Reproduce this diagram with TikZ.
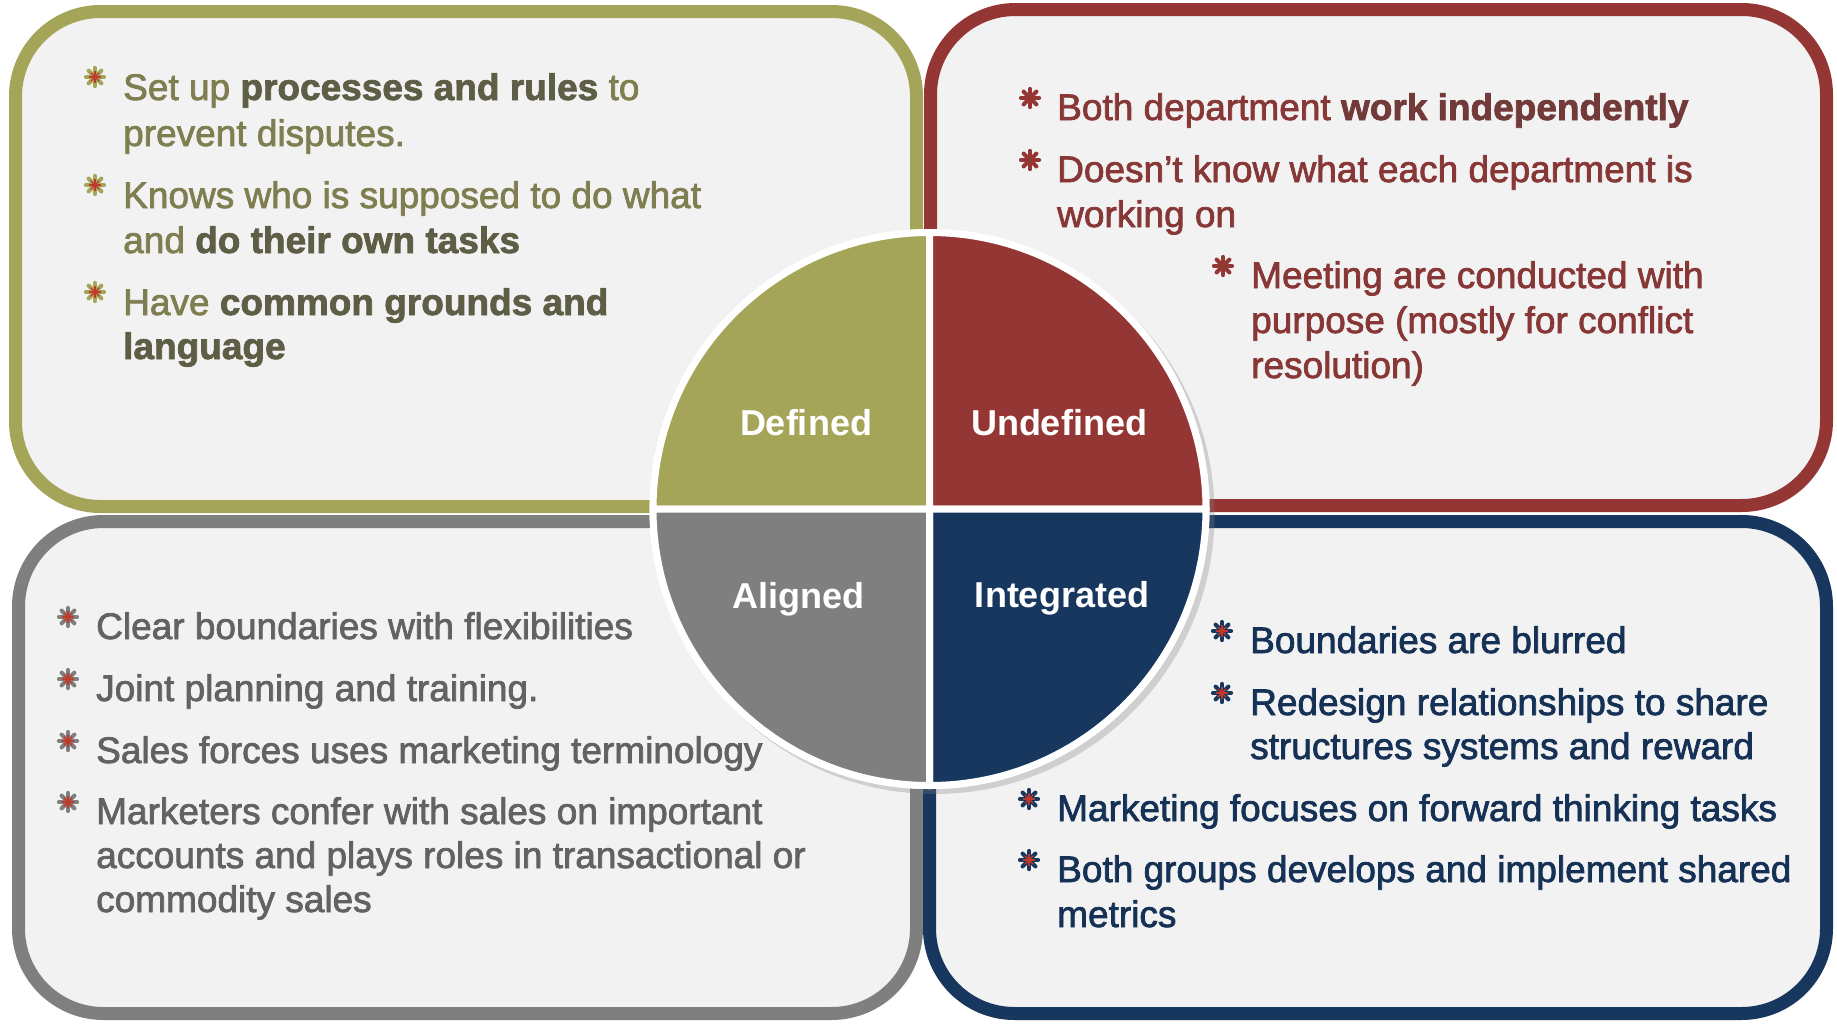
\documentclass[tikz,border=0pt]{standalone}
\usepackage{fontspec}
\setmainfont{Liberation Sans}
\newfontfamily\bodyfont{Liberation Sans}[FakeBold=2]
\usetikzlibrary{shadows}
\definecolor{olv}{HTML}{A5A55A}
\definecolor{rd}{HTML}{943634}
\definecolor{gry}{HTML}{7F7F7F}
\definecolor{nvy}{HTML}{17375E}
\definecolor{boxbg}{HTML}{F2F2F2}
\definecolor{core}{HTML}{3F3F3F}
\definecolor{astred}{HTML}{C0392B}
\colorlet{gtxtc}{olv!62!core}
\colorlet{gboldc}{olv!30!core}
\colorlet{rtxtc}{rd!85!core}
\colorlet{rboldc}{rd!60!core}
\colorlet{atxtc}{gry!55!core}
\colorlet{btxtc}{nvy!90!black}
\newcommand\gb[1]{\textbf{\color{gboldc}#1}}
\newcommand\rb[1]{\textbf{\color{rboldc}#1}}
\newcommand\astk[4]{%
  \coordinate (#1) at #2;
  \foreach \a in {0,45,90,135}{\draw[#3, line width=4.2pt, line cap=round, shift={(#1)}] (\a:9) -- (\a+180:9);}
  \foreach \a in {0,45,90,135}{\draw[#4, line width=1.4pt, line cap=round, shift={(#1)}] (\a:5.5) -- (\a+180:5.5);}
}
\tikzset{
  panel/.style={line width=13pt, rounded corners=85pt, fill=boxbg,
    drop shadow={shadow xshift=5pt, shadow yshift=-5pt, opacity=0.3}},
  quad/.style={draw=white, line width=7pt, line join=round},
  body/.style={anchor=base west, inner sep=0pt, font=\fontsize{37}{45}\bodyfont},
  gtext/.style={body, text=gtxtc},
  rtext/.style={body, text=rtxtc},
  atext/.style={body, text=atxtc},
  btext/.style={body, text=btxtc},
  lbl/.style={anchor=base, inner sep=0pt, text=white, font=\fontsize{36}{40}\selectfont\bfseries}
}
\begin{document}
\begin{tikzpicture}[x=1pt, y=-1pt]
\useasboundingbox (0,0) rectangle (1837,1026);
\fill[white] (0,0) rectangle (1837,1026);
% panels (bottom row first)
\draw[panel, draw=gry] (18.5,521.5) rectangle (916.5,1013.5);
\draw[panel, draw=nvy] (929.5,521.5) rectangle (1826.5,1013.5);
\draw[panel, draw=olv] (15.5,11.5) rectangle (916.5,506.5);
\draw[panel, draw=rd] (930.5,9.5) rectangle (1826.5,505.5);
% green text
\astk{ga1}{(95,77)}{olv}{astred}
\astk{ga2}{(95,185)}{olv}{astred}
\astk{ga3}{(95,292)}{olv}{astred}
\node[gtext] (g1) at (123,100) {Set up \gb{processes and rules} to};
\node[gtext] (g2) at (123,146) {prevent disputes.};
\node[gtext] (g3) at (123,208) {Knows who is supposed to do what};
\node[gtext] (g4) at (123,253) {and \gb{do their own tasks}};
\node[gtext] (g5) at (123,315) {Have \gb{common grounds and}};
\node[gtext] (g6) at (123,359) {\gb{language}};
% red text
\astk{ra1}{(1030,98)}{rd}{rd}
\astk{ra2}{(1030,160)}{rd}{rd}
\astk{ra3}{(1223,266)}{rd}{rd}
\node[rtext] (r1) at (1057,120) {Both department \rb{work independently}};
\node[rtext] (r2) at (1057,182) {Doesn’t know what each department is};
\node[rtext] (r3) at (1057,227) {working on};
\node[rtext] (r4) at (1251,288) {Meeting are conducted with};
\node[rtext] (r5) at (1251,333) {purpose (mostly for conflict};
\node[rtext] (r6) at (1251,378) {resolution)};
% gray text
\astk{aa1}{(68,617)}{gry}{astred}
\astk{aa2}{(68,679)}{gry}{astred}
\astk{aa3}{(68,741)}{gry}{astred}
\astk{aa4}{(68,802)}{gry}{astred}
\node[atext] (a1) at (96,639) {Clear boundaries with flexibilities};
\node[atext] (a2) at (96,701) {Joint planning and training.};
\node[atext] (a3) at (96,763) {Sales forces uses marketing terminology};
\node[atext] (a4) at (96,824) {Marketers confer with sales on important};
\node[atext] (a5) at (96,868) {accounts and plays roles in transactional or};
\node[atext] (a6) at (96,912) {commodity sales};
% blue text
\astk{ba1}{(1222,631)}{nvy}{astred}
\astk{ba2}{(1222,693)}{nvy}{astred}
\astk{ba3}{(1029,799)}{nvy}{astred}
\astk{ba4}{(1029,860)}{nvy}{astred}
\node[btext] (b1) at (1250,653) {Boundaries are blurred};
\node[btext] (b2) at (1250,715) {Redesign relationships to share};
\node[btext] (b3) at (1250,759) {structures systems and reward};
\node[btext] (b4) at (1057,821) {Marketing focuses on forward thinking tasks};
\node[btext] (b5) at (1057,882) {Both groups develops and implement shared};
\node[btext] (b6) at (1057,927) {metrics};
% central circle
\coordinate (c) at (929.5,509);
\fill[white, drop shadow={shadow xshift=5pt, shadow yshift=-5pt, opacity=0.3}] (c) circle[radius=280];
\filldraw[quad, fill=olv] (c) -- ++(-276.5,0) arc[start angle=180, end angle=270, radius=276.5] -- cycle;
\filldraw[quad, fill=rd]  (c) -- ++(0,-276.5) arc[start angle=270, end angle=360, radius=276.5] -- cycle;
\filldraw[quad, fill=nvy] (c) -- ++(276.5,0) arc[start angle=0, end angle=90, radius=276.5] -- cycle;
\filldraw[quad, fill=gry] (c) -- ++(0,276.5) arc[start angle=90, end angle=180, radius=276.5] -- cycle;
\node[lbl] (ldef) at (806,435) {Defined};
\node[lbl] (lund) at (1059,435) {Undefined};
\node[lbl] (lali) at (798,608) {Aligned};
\node[lbl] (lint) at (1062,607) {Integrated};
\end{tikzpicture}
\end{document}
